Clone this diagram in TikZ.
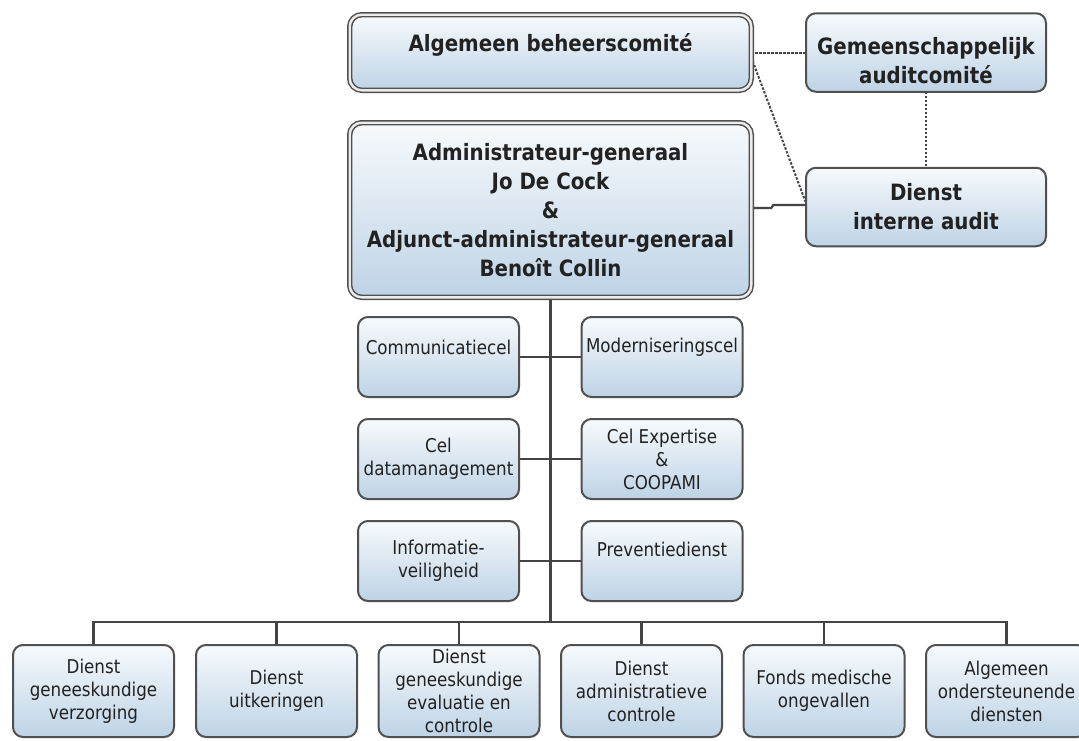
\documentclass[tikz,border=0pt]{standalone}
\usepackage{fontspec}
\setmainfont{DejaVu Sans}[FakeStretch=0.88]
\usetikzlibrary{backgrounds}
\definecolor{boxline}{HTML}{505050}
\definecolor{boxtop}{HTML}{F7FAFC}
\definecolor{boxbot}{HTML}{BED3E6}
\definecolor{txt}{HTML}{222222}
\definecolor{connc}{HTML}{444444}
\begin{document}
\begin{tikzpicture}[x=1pt,y=-1pt,
  box/.style={draw=boxline, line width=2pt, rounded corners=10pt, top color=boxtop, bottom color=boxbot, text=txt, align=center, inner sep=0pt, outer sep=0pt},
  dbox/.style={box, line width=1.5pt, double=white!92!black, double distance=2.4pt, rounded corners=12pt},
  bt/.style={font=\fontsize{22.5}{29}\selectfont\bfseries, text=txt, align=center},
  rt/.style={font=\fontsize{19}{23}\selectfont, text=txt, align=center},
  conn/.style={draw=connc, line width=2.2pt},
  dotline/.style={conn, line width=2pt, dash pattern=on 2.4pt off 1.6pt},
  topbox/.style={dbox, bt, minimum width=401.6pt},
  sidebox/.style={box, bt, minimum width=240pt, minimum height=78.5pt},
  midbox/.style={box, rt, minimum width=161pt, minimum height=80pt},
  botbox/.style={box, rt, minimum width=161pt, minimum height=92pt}]
\useasboundingbox (0,0) rectangle (1079,740);
\clip (0,0) rectangle (1079,740);

% top level
\node[topbox, minimum height=75.6pt, label={[bt, yshift=7.5pt]center:Algemeen beheerscomité}] (alg) at (550.5,52.5) {};
\node[topbox, minimum height=174.6pt] (adm) at (550.5,210) {Administrateur-generaal\\Jo De Cock\\\&\\Adjunct-administrateur-generaal\\Benoît Collin};
\node[sidebox, label={[bt, yshift=-8pt]center:{Gemeenschappelijk\\auditcomité}}] (gem) at (926,52.5) {};
\node[sidebox] (dia) at (926,207) {Dienst\\interne audit};

% staff cells
\node[midbox, label={[rt, yshift=10pt]center:Communicatiecel}] (com) at (438.5,357) {};
\node[midbox, label={[rt, yshift=10pt]center:Moderniseringscel}] (mod) at (662,357) {};
\node[midbox] (cdm) at (438.5,459) {Cel\\datamanagement};
\node[midbox] (cex) at (662,459) {Cel Expertise\\\&\\COOPAMI};
\node[midbox] (inf) at (438.5,561) {Informatie-\\veiligheid};
\node[midbox, label={[rt, yshift=12pt]center:Preventiedienst}] (pre) at (662,561) {};

% services
\node[botbox] (b1) at (93.5,691) {Dienst\\geneeskundige\\verzorging};
\node[botbox] (b2) at (276.5,691) {Dienst\\uitkeringen};
\node[botbox] (b3) at (459,691) {Dienst\\geneeskundige\\evaluatie en\\controle};
\node[botbox] (b4) at (641.5,691) {Dienst\\administratieve\\controle};
\node[botbox] (b5) at (824,691) {Fonds medische\\ongevallen};
\node[botbox] (b6) at (1006.5,691) {Algemeen\\ondersteunende\\diensten};

\coordinate (busc) at (550.5,622);

\begin{scope}[on background layer]
  \fill[white] (0,0) rectangle (1079,740);
  \draw[dotline] (alg.east) -- (gem.west);
  \draw[dotline] ([yshift=-5pt]alg.east) -- ([yshift=4pt]dia.west);
  \draw[dotline] (gem.south) -- (dia.north);
  \draw[conn] ([yshift=2pt]adm.east) -- ++(20,0) -- ++(2,-3) -- ([yshift=2pt]dia.west);
  \draw[conn] (adm.south) -- (busc);
  \draw[conn] (com.east) -- (mod.west);
  \draw[conn] (cdm.east) -- (cex.west);
  \draw[conn] (inf.east) -- (pre.west);
  \draw[conn] (b1.north) |- (b6.north |- busc) -- (b6.north);
  \foreach \b in {b2,b3,b4,b5} {\draw[conn] (\b.north) -- (\b.north |- busc);}
\end{scope}
\end{tikzpicture}
\end{document}
